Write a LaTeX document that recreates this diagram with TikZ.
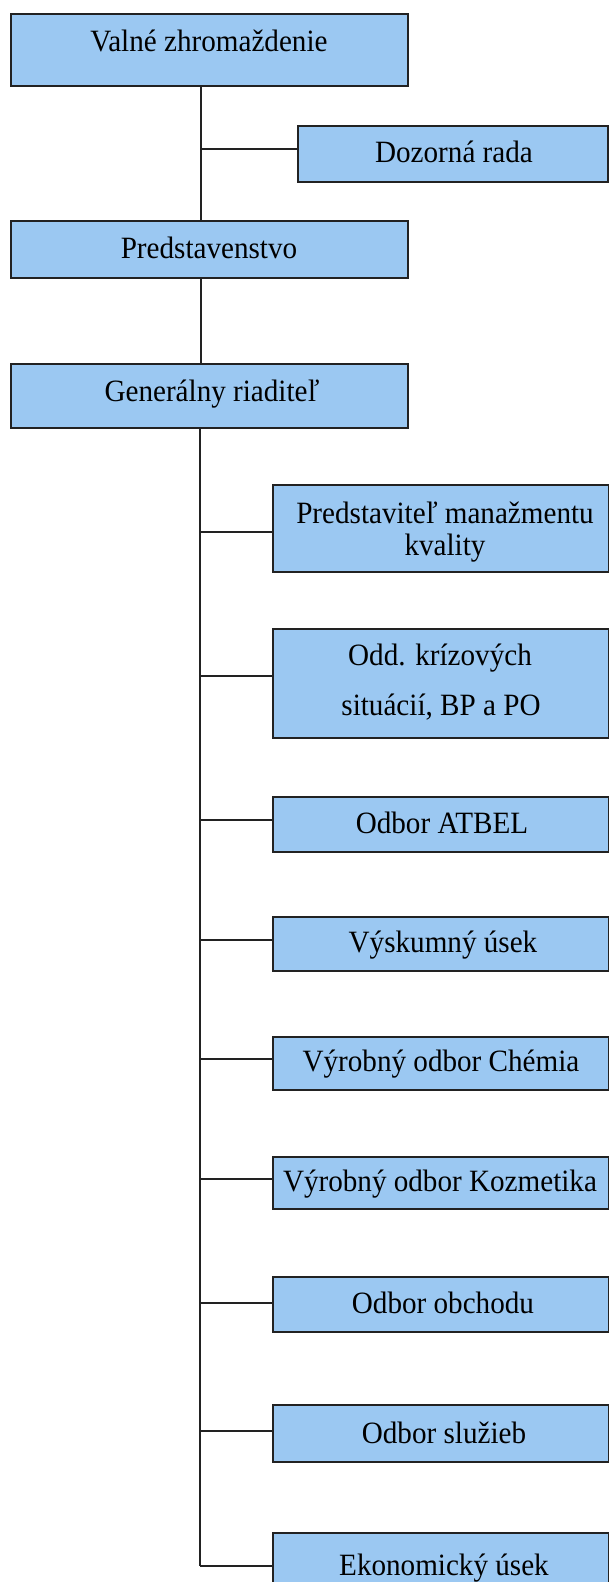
\documentclass[tikz,border=0pt]{standalone}
\usepackage{fontspec}
\setmainfont{Liberation Serif}[FakeStretch=0.94]
\definecolor{boxblue}{RGB}{155,200,242}
\definecolor{inkline}{RGB}{34,34,34}
\begin{document}
\begin{tikzpicture}[x=1pt,y=-1pt,
  orgbox/.style={rectangle, draw=inkline, line width=2.2pt, fill=boxblue, anchor=north west, inner sep=0pt},
  lbl/.style={anchor=base, inner sep=0pt, font=\fontsize{31}{31}\selectfont, text=black},
  link/.style={draw=inkline, line width=2pt}]
\clip (0,0) rectangle (609,1582);
\fill[white] (0,0) rectangle (609,1582);
% top level boxes
\node[orgbox, minimum width=397pt, minimum height=72pt] (vz) at (10,12.5) {};
\node[orgbox, minimum width=310pt, minimum height=56pt] (dr) at (297,125) {};
\node[orgbox, minimum width=397pt, minimum height=57pt] (pr) at (10,220) {};
\node[orgbox, minimum width=397pt, minimum height=64pt] (gr) at (10,363) {};
% children
\node[orgbox, minimum width=336pt, minimum height=87pt] (pmk) at (272,484) {};
\node[orgbox, minimum width=336pt, minimum height=109pt] (odd) at (272,628) {};
\node[orgbox, minimum width=336pt, minimum height=55pt] (atb) at (272,796) {};
\node[orgbox, minimum width=336pt, minimum height=54pt] (vys) at (272,916) {};
\node[orgbox, minimum width=336pt, minimum height=53pt] (che) at (272,1036) {};
\node[orgbox, minimum width=336pt, minimum height=52pt] (koz) at (272,1156) {};
\node[orgbox, minimum width=336pt, minimum height=55pt] (obc) at (272,1276) {};
\node[orgbox, minimum width=336pt, minimum height=57pt] (slu) at (272,1404) {};
\node[orgbox, minimum width=336pt, minimum height=70pt] (eko) at (272,1532) {};
% labels
\node[lbl] (tvz) at (209,51) {Valné zhromaždenie};
\node[lbl] (tdr) at (454,162) {Dozorná rada};
\node[lbl] (tpr) at (209,258) {Predstavenstvo};
\node[lbl] (tgr) at (212,401.5) {Generálny riaditeľ};
\node[lbl] (tpmk1) at (445,523) {Predstaviteľ manažmentu};
\node[lbl] (tpmk2) at (445,555) {kvality};
\node[lbl] (todd1) at (440,665) {Odd. krízových};
\node[lbl] (todd2) at (441,715) {situácií, BP a PO};
\node[lbl] (tatb) at (442,833) {Odbor ATBEL};
\node[lbl] (tvys) at (443,952) {Výskumný úsek};
\node[lbl] (tche) at (441,1071) {Výrobný odbor Chémia};
\node[lbl] (tkoz) at (440,1191) {Výrobný odbor Kozmetika};
\node[lbl] (tobc) at (443,1313) {Odbor obchodu};
\node[lbl] (tslu) at (444,1443) {Odbor služieb};
\node[lbl] (teko) at (444,1575) {Ekonomický úsek};
% spine coordinates
\coordinate (s1) at (201,0);
\coordinate (s2) at (200,0);
\coordinate (jdr) at (201,149);
\coordinate (jpmk) at (200,532);
\coordinate (jodd) at (200,676);
\coordinate (jatb) at (200,820);
\coordinate (jvys) at (200,940);
\coordinate (jche) at (200,1059);
\coordinate (jkoz) at (200,1179);
\coordinate (jobc) at (200,1303);
\coordinate (jslu) at (200,1431);
\coordinate (jeko) at (200,1566);
% connectors
\draw[link] (vz.south -| s1) -- (pr.north -| s1);
\draw[link] (jdr) -- (jdr -| dr.west);
\draw[link] (pr.south -| s1) -- (gr.north -| s1);
\draw[link] (gr.south -| s2) -- (jeko);
\draw[link] (jpmk) -- (jpmk -| pmk.west);
\draw[link] (jodd) -- (jodd -| odd.west);
\draw[link] (jatb) -- (jatb -| atb.west);
\draw[link] (jvys) -- (jvys -| vys.west);
\draw[link] (jche) -- (jche -| che.west);
\draw[link] (jkoz) -- (jkoz -| koz.west);
\draw[link] (jobc) -- (jobc -| obc.west);
\draw[link] (jslu) -- (jslu -| slu.west);
\draw[link] (jeko) -- (jeko -| eko.west);
\end{tikzpicture}
\end{document}
